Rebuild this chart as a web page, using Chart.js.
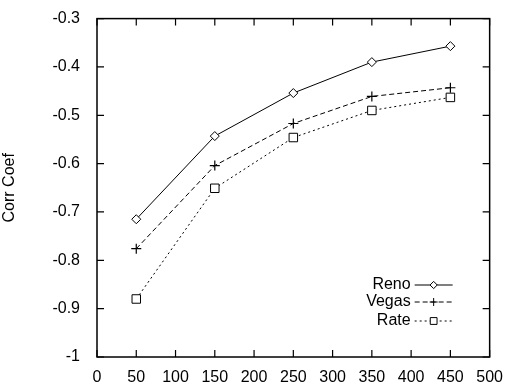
<!DOCTYPE html>
<html>
<head>
<meta charset="utf-8">
<script src="https://cdn.jsdelivr.net/npm/chart.js@4.4.0/dist/chart.umd.min.js"></script>
<style>
html,body{margin:0;padding:0;background:#fff;}
#wrap{width:506px;height:389px;position:relative;}
</style>
</head>
<body>
<div id="wrap"><canvas id="c" width="506" height="389"></canvas></div>
<script>
const xValues = [50, 150, 250, 350, 450];
const reno  = [-0.715, -0.543, -0.454, -0.390, -0.357];
const vegas = [-0.776, -0.604, -0.517, -0.461, -0.443];
const rate  = [-0.880, -0.651, -0.546, -0.490, -0.463];
const seriesNames = ['Reno', 'Vegas', 'Rate'];
const yTickLabels = {'-1.0':'-1','-0.9':'-0.9','-0.8':'-0.8','-0.7':'-0.7','-0.6':'-0.6','-0.5':'-0.5','-0.4':'-0.4','-0.3':'-0.3'};
const yAxisTitle = 'Corr Coef';

const FONT = 'Liberation Sans, Arial, Helvetica, sans-serif';
function pts(arr){ return xValues.map((x,i)=>({x:x,y:arr[i]})); }

const frameTicks = {
  id:'frameTicks',
  afterDatasetsDraw(chart){
    const ctx = chart.ctx, a = chart.chartArea;
    const xs = chart.scales.x, ys = chart.scales.y;
    const L = 7;
    ctx.save();
    ctx.strokeStyle = '#000';
    ctx.lineWidth = 1.5;
    ctx.setLineDash([]);
    ctx.strokeRect(a.left, a.top, a.right - a.left, a.bottom - a.top);
    ctx.lineWidth = 1.2;
    ctx.beginPath();
    xs.ticks.forEach(t=>{
      const px = xs.getPixelForValue(t.value);
      ctx.moveTo(px, a.bottom); ctx.lineTo(px, a.bottom - L);
      ctx.moveTo(px, a.top); ctx.lineTo(px, a.top + L);
    });
    ys.ticks.forEach(t=>{
      const py = ys.getPixelForValue(t.value);
      ctx.moveTo(a.left, py); ctx.lineTo(a.left + L, py);
      ctx.moveTo(a.right, py); ctx.lineTo(a.right - L, py);
    });
    ctx.stroke();

    // legend (text left of sample)
    const textRight = a.right - 79;
    const x0 = a.right - 75, x1 = a.right - 37, xm = (x0 + x1) / 2;
    const rows = [a.bottom - 72, a.bottom - 55, a.bottom - 36];
    ctx.font = '16px ' + FONT;
    ctx.textAlign = 'right';
    ctx.textBaseline = 'middle';
    chart.data.datasets.forEach((ds, i)=>{
      const y = rows[i];
      ctx.fillStyle = '#000';
      ctx.fillText(ds.label, textRight, y);
      ctx.strokeStyle = '#000';
      ctx.lineWidth = 1;
      ctx.setLineDash(ds.borderDash || []);
      ctx.beginPath(); ctx.moveTo(x0, y); ctx.lineTo(x1, y); ctx.stroke();
      ctx.setLineDash([]);
      ctx.fillStyle = '#fff';
      ctx.strokeStyle = '#000';
      Chart.helpers.drawPoint(ctx, {pointStyle: ds.pointStyle, radius: ds.pointRadius * 0.8, borderWidth: 1, rotation: 0}, xm, y);
    });
    ctx.restore();
  }
};

new Chart(document.getElementById('c'), {
  type: 'line',
  data: {
    datasets: [
      {label: seriesNames[0], data: pts(reno), borderColor:'#000', borderWidth:1, pointStyle:'rectRot', pointRadius:4.5, pointBorderColor:'#000', pointBackgroundColor:'#fff', pointBorderWidth:1, fill:false, tension:0},
      {label: seriesNames[1], data: pts(vegas), borderColor:'#000', borderWidth:1, borderDash:[5,3], pointStyle:'cross', pointRadius:5, pointBorderColor:'#000', pointBorderWidth:1.2, fill:false, tension:0},
      {label: seriesNames[2], data: pts(rate), borderColor:'#000', borderWidth:1, borderDash:[2,3], pointStyle:'rect', pointRadius:6, pointBorderColor:'#000', pointBackgroundColor:'#fff', pointBorderWidth:1, fill:false, tension:0}
    ]
  },
  options: {
    responsive: false,
    animation: false,
    events: [],
    layout: {padding: {left: 0, top: 12, right: 15, bottom: 0}},
    plugins: {legend: {display:false}, tooltip: {enabled:false}},
    scales: {
      x: {
        type: 'linear', min: 0, max: 500,
        grid: {display:false}, border: {display:false},
        ticks: {stepSize: 50, padding: 3, color:'#000', font:{family:FONT, size:16}, maxRotation:0, autoSkip:false},
        afterFit(s){ s.height = 32; }
      },
      y: {
        type: 'linear', min: -1, max: -0.3,
        grid: {display:false}, border: {display:false},
        ticks: {stepSize: 0.1, padding: 9, color:'#000', font:{family:FONT, size:16},
          callback(v){ const k = (Math.round(v*10)/10).toFixed(1); return yTickLabels[k] !== undefined ? yTickLabels[k] : k; }},
        title: {display:true, text: yAxisTitle, color:'#000', font:{family:FONT, size:16}, padding:{top:0,bottom:0}},
        afterFit(s){ s.width = 97; }
      }
    }
  },
  plugins: [frameTicks]
});
</script>
</body>
</html>
